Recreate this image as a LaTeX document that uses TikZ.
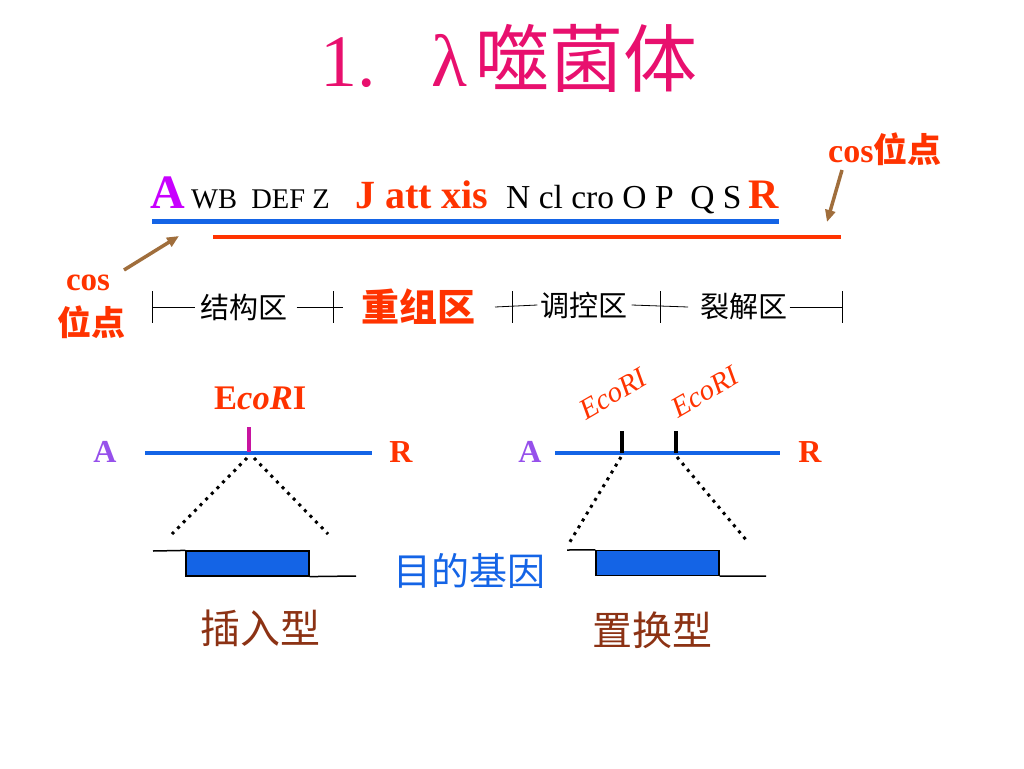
\documentclass[tikz,border=0pt]{standalone}
\usepackage{fontspec}
\setmainfont{Liberation Serif}
\newfontfamily\cjk{Noto Sans CJK SC}
\usetikzlibrary{arrows.meta}
\definecolor{titlepink}{RGB}{232,16,110}
\definecolor{genered}{RGB}{255,51,0}
\definecolor{lineblue}{RGB}{20,100,230}
\definecolor{apurple}{RGB}{200,0,255}
\definecolor{bpurple}{RGB}{150,80,235}
\definecolor{cosbrown}{RGB}{160,110,60}
\definecolor{typebrown}{RGB}{140,50,20}
\definecolor{sitemag}{RGB}{200,20,160}
\newcommand{\fsz}[1]{\fontsize{#1}{#1}\selectfont}

\begin{document}
\begin{tikzpicture}[x=1pt, y=-1pt, inner sep=0pt,
  gene/.style={anchor=base west},
  cosarrow/.style={-{Triangle[length=12pt,width=10pt]}, cosbrown, line width=3.5pt},
  region/.style={black, line width=0.8pt},
  cut/.style={line width=3pt, dash pattern=on 3pt off 5pt},
  genebox/.style={draw=black, line width=1.2pt, fill=lineblue, minimum width=123pt, minimum height=25pt}]
  \useasboundingbox (0,0) rectangle (1024,768);
  \node[gene, text=titlepink] (title) at (320,86) {\fsz{74}1.\hspace{56pt}λ\hspace{8pt}{\cjk 噬菌体}};

  \node[gene, text=apurple] (gA) at (150,208) {\fsz{48}\bfseries A};
  \node[gene] (gWB) at (191,208) {\fsz{28.5}WB\ \ DEF Z};
  \node[gene, text=genered] (gJ) at (355,208) {\fsz{40}\bfseries J att xis};
  \node[gene] (gN) at (506,208) {\fsz{33.5}N cl cro O P\ \ Q S};
  \node[gene, text=genered] (gR) at (748,208) {\fsz{42}\bfseries R};
  \coordinate (blueL) at (152,221);
  \coordinate (blueR) at (779,221);
  \coordinate (redL) at (213,237);
  \coordinate (redR) at (841,237);
  \draw[lineblue, line width=5pt] (blueL) -- (blueR);
  \draw[genered, line width=4pt] (redL) -- (redR);

  \node[gene, text=genered] (cosR) at (828,162) {\fsz{34}\bfseries cos{\cjk 位点}};
  \node[text=genered] (cosL) at (88,283) {\fsz{33}\bfseries cos};
  \node[text=genered] (cosL2) at (91,322) {\fsz{34}\cjk\bfseries 位点};
  \coordinate (cosRs) at (842,170);
  \coordinate (cosRt) at (827,222);
  \coordinate (cosLs) at (124,270);
  \coordinate (cosLt) at (179,236);
  \draw[cosarrow] (cosRs) -- (cosRt);
  \draw[cosarrow] (cosLs) -- (cosLt);

  \node (jg) at (244,307) {\fsz{29}\cjk 结构区};
  \node[text=genered] (cz) at (418,307) {\fsz{38}\cjk\bfseries 重组区};
  \node (tk) at (584,305) {\fsz{29}\cjk 调控区};
  \node (lj) at (744,307) {\fsz{29}\cjk 裂解区};
  \foreach \x [count=\i] in {152,333,512,660,842}
    \draw[region] (\x,291) coordinate (t\i) -- (\x,323);
  \draw[region] (152,307) -- ([xshift=-5pt]jg.west);
  \draw[region] ([xshift=9pt]jg.east) -- (343,307);
  \draw[region] (495,307) -- ([xshift=-3pt]tk.west);
  \draw[region] ([xshift=4pt]tk.east) -- (688,307);
  \draw[region] ([xshift=2pt]lj.east) -- (842,307);

  \node[text=bpurple] (ins A) at (105,452) {\fsz{32}\bfseries A};
  \node[text=genered] (ins R) at (401,452) {\fsz{32}\bfseries R};
  \node[gene, text=genered] (ins eco) at (214,409) {\fsz{34.5}\bfseries E\textit{co}\textit{R}I};
  \draw[lineblue, line width=4pt] (145,453) -- (372,453);
  \draw[sitemag, line width=3.5pt] (249,427) -- (249,452);
  \draw[cut] (247,458) -- (172,534);
  \draw[cut] (254,458) -- (328,534);
  \node[genebox] (ins box) at (247.5,563.5) {};
  \draw[line width=1.5pt] (153,551) -- (ins box.north west);
  \draw[line width=1.5pt] (ins box.south east) -- (356,576);
  \node[text=typebrown] (ins name) at (260,628) {\fsz{40}\cjk 插入型};

  \node[text=bpurple] (rep A) at (530,452) {\fsz{32}\bfseries A};
  \node[text=genered] (rep R) at (810,452) {\fsz{32}\bfseries R};
  \node[text=genered, rotate=30] (rep eco1) at (613,394) {\fsz{29}\itshape EcoRI};
  \node[text=genered, rotate=30] (rep eco2) at (705,392) {\fsz{29}\itshape EcoRI};
  \draw[lineblue, line width=4pt] (555,453) -- (780,453);
  \draw[line width=3.5pt] (622,431) -- (622,453);
  \draw[line width=3.5pt] (676,431) -- (676,453);
  \draw[cut] (621,457) -- (568,545);
  \draw[cut] (677,457) -- (747,541);
  \node[genebox] (rep box) at (657.5,563) {};
  \draw[line width=1.5pt] (567,550) -- (rep box.north west);
  \draw[line width=1.5pt] (rep box.south east) -- (766,576);
  \node[text=typebrown] (rep name) at (652,630) {\fsz{40}\cjk 置换型};

  \node[text=lineblue] (target) at (469,571) {\fsz{38}\cjk 目的基因};
\end{tikzpicture}
\end{document}
